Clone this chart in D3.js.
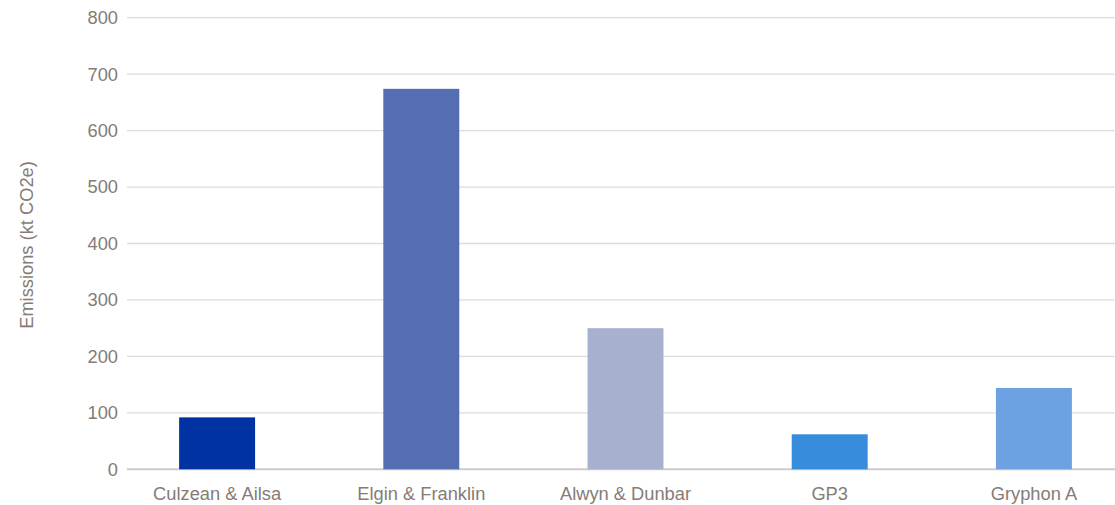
<!DOCTYPE html>
<html>
<head>
<meta charset="utf-8">
<script src="https://cdn.jsdelivr.net/npm/d3@7"></script>
<style>
  body { margin: 0; background: #fff; }
  svg { display: block; font-family: "Liberation Sans", Arial, sans-serif; }
</style>
</head>
<body>
<svg id="chart"></svg>
<script>
const width = 1115;
const height = 505;

// data
const fields = ["Culzean & Ailsa", "Elgin & Franklin", "Alwyn & Dunbar", "GP3", "Gryphon A"];
const emissions = [92, 674, 250, 62, 144];
const barColors = ["#0033a1", "#556db1", "#a8b0cf", "#388cdc", "#6da1e1"];
const yTicks = [0, 100, 200, 300, 400, 500, 600, 700, 800];

const textColor = "#857c76";
const fontSize = 18.3;

const svg = d3.select("#chart")
  .attr("width", width)
  .attr("height", height);

const x = d3.scaleBand()
  .domain(fields)
  .range([115, 1136])
  .paddingInner(0.628)
  .paddingOuter(0.314);

const y = d3.scaleLinear()
  .domain([0, 800])
  .range([469.3, 17.7]);

// gridlines
svg.append("g")
  .selectAll("line")
  .data(yTicks)
  .join("line")
  .attr("x1", 127)
  .attr("x2", width)
  .attr("y1", d => y(d))
  .attr("y2", d => y(d))
  .attr("stroke", d => d === 0 ? "#cccccc" : "#dcdcdc")
  .attr("stroke-width", d => d === 0 ? 2 : 1.3);

// y tick labels
svg.append("g")
  .selectAll("text")
  .data(yTicks)
  .join("text")
  .attr("x", 118)
  .attr("y", d => y(d))
  .attr("dy", "0.35em")
  .attr("text-anchor", "end")
  .attr("font-size", fontSize)
  .attr("fill", textColor)
  .text(d => d);

// bars
svg.append("g")
  .selectAll("rect")
  .data(fields)
  .join("rect")
  .attr("x", d => x(d))
  .attr("width", x.bandwidth())
  .attr("y", (d, i) => y(emissions[i]))
  .attr("height", (d, i) => y(0) - y(emissions[i]))
  .attr("fill", (d, i) => barColors[i]);

// category labels
svg.append("g")
  .selectAll("text")
  .data(fields)
  .join("text")
  .attr("x", d => x(d) + x.bandwidth() / 2)
  .attr("y", 500)
  .attr("text-anchor", "middle")
  .attr("font-size", fontSize)
  .attr("fill", textColor)
  .text(d => d);

// axis title
svg.append("text")
  .attr("transform", "translate(33,245) rotate(-90)")
  .attr("text-anchor", "middle")
  .attr("font-size", fontSize)
  .attr("fill", textColor)
  .text("Emissions (kt CO2e)");
</script>
</body>
</html>
